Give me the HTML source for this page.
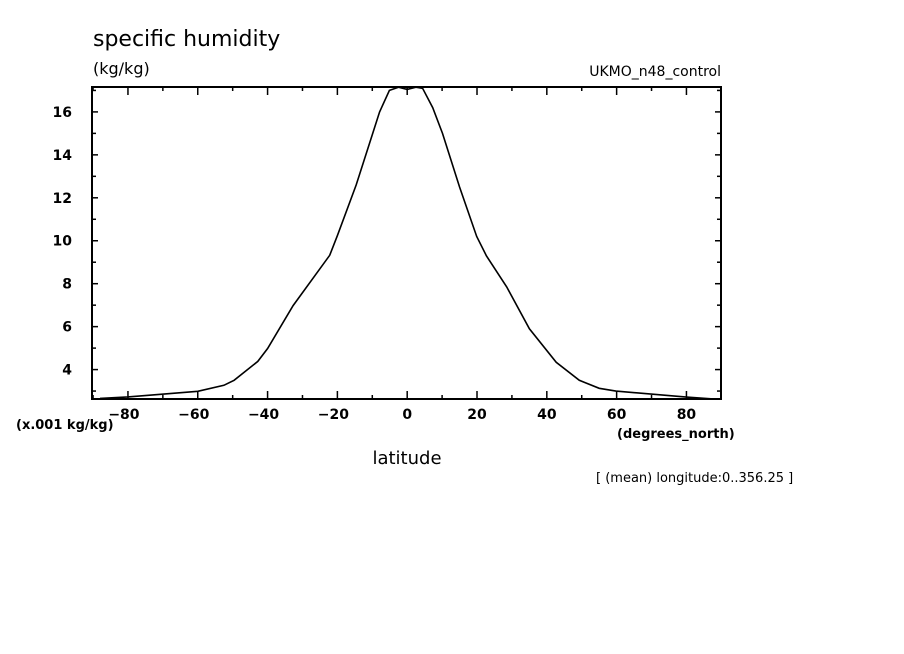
<!DOCTYPE html>
<html><head><meta charset="utf-8"><style>
body{margin:0;background:#fff}
svg{display:block}
text{font-family:"DejaVu Sans","Liberation Sans",sans-serif;fill:#000}
</style></head><body>
<svg width="904" height="654" viewBox="0 0 904 654">
<text x="93" y="46" font-size="22">specific humidity</text>
<text x="93" y="74" font-size="16">(kg/kg)</text>
<text x="721" y="76" font-size="14" text-anchor="end">UKMO_n48_control</text>
<text x="16" y="429" font-size="13" font-weight="bold">(x.001 kg/kg)</text>
<text x="617" y="438" font-size="13" font-weight="bold">(degrees_north)</text>
<text x="407" y="464" font-size="18" text-anchor="middle">latitude</text>
<text x="596" y="482" font-size="13">[ (mean) longitude:0..356.25 ]</text>
<g id="ticks"></g>
<path id="line" fill="none" stroke="#000" stroke-width="1.6"/>
<rect x="92" y="87" width="629" height="312" fill="none" stroke="#000" stroke-width="2"/>
</svg>
<script>
const lats=[-88,-80,-60,-52.5,-49.6,-42.8,-40,-32.7,-22.2,-20,-14.6,-7.9,-5.1,-2.5,0,2.5,4.4,7.3,10.1,15,19.9,22.7,28.5,35,42.7,49.3,55,59.8,80,88];
const vals=[2.66,2.73,2.99,3.27,3.5,4.38,4.98,6.98,9.32,10.24,12.6,16.0,17.0,17.15,17.05,17.15,17.1,16.2,15.0,12.5,10.2,9.3,7.85,5.9,4.34,3.5,3.13,3.0,2.72,2.63];
const xTicks=[-80,-60,-40,-20,0,20,40,60,80];
const yTicks=[4,6,8,10,12,14,16];
const X0=92,X1=721,Y0=399,Y1=87,xmin=-90.3,xmax=89.9,ymin=2.63,ymax=17.16;
const sx=v=>X0+(v-xmin)/(xmax-xmin)*(X1-X0);
const sy=v=>Y0-(v-ymin)/(ymax-ymin)*(Y0-Y1);
const NS="http://www.w3.org/2000/svg";
const g=document.getElementById('ticks');
function ln(x1,y1,x2,y2,w){const l=document.createElementNS(NS,'line');l.setAttribute('x1',x1);l.setAttribute('y1',y1);l.setAttribute('x2',x2);l.setAttribute('y2',y2);l.setAttribute('stroke','#000');l.setAttribute('stroke-width',w);


g.appendChild(l);}
for(let v=-90;v<=90;v+=10){const x=sx(v);if(x<X0||x>X1)continue;const maj=v%20===0;const L=maj?8:4;ln(x,Y0,x,Y0-L,1.5);ln(x,Y1,x,Y1+L,1.5);}
for(let v=3;v<=17;v+=1){const y=sy(v);const maj=v%2===0;const L=maj?6:4;ln(X0,y,X0+L,y,1.5);ln(X1,y,X1-L,y,1.5);}
xTicks.forEach(v=>{const t=document.createElementNS(NS,'text');t.setAttribute('x',sx(v)-(v<0?4:0));t.setAttribute('y',419);t.setAttribute('font-size','14');t.setAttribute('font-weight','bold');t.setAttribute('text-anchor','middle');t.textContent=(v<0?'\u2212'+(-v):v);


g.appendChild(t);});
yTicks.forEach(v=>{const t=document.createElementNS(NS,'text');t.setAttribute('x',72);t.setAttribute('y',sy(v)+5);t.setAttribute('font-size','14');t.setAttribute('font-weight','bold');t.setAttribute('text-anchor','end');t.textContent=v;


g.appendChild(t);});
document.getElementById('line').setAttribute('d',lats.map((a,i)=>(i?'L':'M')+sx(a).toFixed(1)+' '+sy(vals[i]).toFixed(1)).join(' '));
</script>
</body></html>
